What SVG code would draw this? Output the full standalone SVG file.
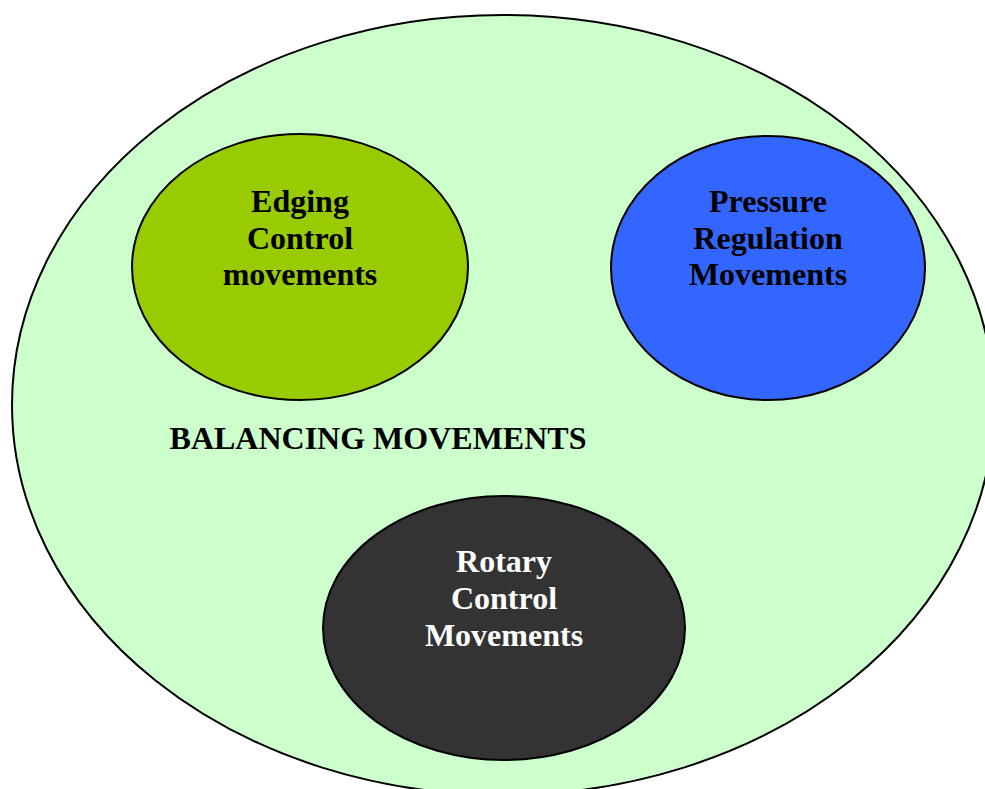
<svg xmlns="http://www.w3.org/2000/svg" width="985" height="789" viewBox="0 0 985 789">
<style>
.o{stroke:#000;stroke-width:2}
.t{font-family:"Liberation Serif","Times New Roman",serif;font-weight:bold;font-size:32px;text-anchor:middle}
</style>
<rect width="985" height="789" fill="#fff"/>
<g id="balancing">
<ellipse class="o" cx="503" cy="405" rx="491" ry="390" fill="#CCFFCC"/>
<text class="t" x="378" y="449">BALANCING MOVEMENTS</text>
</g>
<g id="edging">
<ellipse class="o" cx="300" cy="267" rx="168" ry="133" fill="#99CC00"/>
<text class="t" x="300" y="212">Edging</text>
<text class="t" x="300" y="249">Control</text>
<text class="t" x="300" y="285">movements</text>
</g>
<g id="pressure">
<ellipse class="o" cx="768" cy="268" rx="157" ry="132" fill="#3366FF"/>
<text class="t" x="768" y="212">Pressure</text>
<text class="t" x="768" y="249">Regulation</text>
<text class="t" x="768" y="285">Movements</text>
</g>
<g id="rotary">
<ellipse class="o" cx="504" cy="628" rx="181" ry="132" fill="#333333"/>
<text class="t" x="504" y="572" fill="#fff">Rotary</text>
<text class="t" x="504" y="609" fill="#fff">Control</text>
<text class="t" x="504" y="646" fill="#fff">Movements</text>
</g>
<g id="connectors"/>
</svg>
